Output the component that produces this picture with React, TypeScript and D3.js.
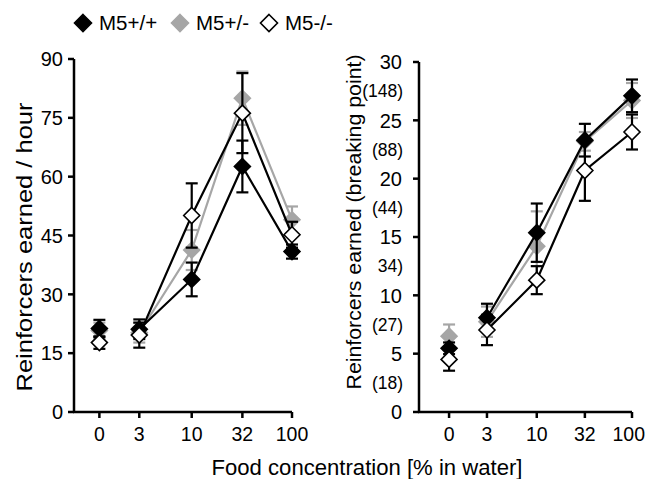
import React from 'react';
import * as d3 from 'd3';

const W = 647, H = 479;
const font = '"Liberation Sans", Arial, Helvetica, sans-serif';

// food concentrations; "0" is drawn at 1.2 on the log axis
const xVals = [1.2, 3, 10, 32, 100];
const xLabels = ['0', '3', '10', '32', '100'];

const seriesNames = ['M5+/+', 'M5+/-', 'M5-/-'];

// reinforcers earned / hour (mean, sem)
const hourWT = [21.3, 21.1, 33.8, 62.6, 40.9];
const hourWTErr = [2.2, 2.5, 4.3, 6.6, 1.8];
const hourHet = [20.8, 20.2, 41.3, 80.0, 49.0];
const hourHetErr = [2.0, 2.5, 5.1, 6.8, 3.4];
const hourKO = [17.7, 19.6, 50.1, 76.2, 45.2];
const hourKOErr = [1.6, 3.2, 8.2, 10.2, 3.3];

// reinforcers earned, breaking point (mean, sem)
const bpWT = [5.46, 8.08, 15.37, 23.3, 27.1];
const bpWTErr = [0.5, 1.2, 2.5, 1.4, 1.4];
const bpHet = [6.5, 7.74, 14.2, 23.2, 26.7];
const bpHetErr = [1.0, 1.3, 3.0, 0.8, 1.5];
const bpKO = [4.51, 7.03, 11.3, 20.7, 24.0];
const bpKOErr = [0.97, 1.3, 1.2, 2.6, 1.5];

const bpSecondary = ['(18)', '(27)', '34)', '(44)', '(88)', '(148)'];

const styles = [
  { fill: '#000', stroke: '#000', line: '#000' },
  { fill: '#a6a6a6', stroke: '#a6a6a6', line: '#a6a6a6' },
  { fill: '#fff', stroke: '#000', line: '#000' },
];

const diamond = (cx: number, cy: number, r: number) =>
  `M${cx},${cy - r}L${cx + r},${cy}L${cx},${cy + r}L${cx - r},${cy}Z`;

type PanelProps = {
  x0: number; x1: number; yTop: number; yBottom: number;
  xMin: number; yMax: number; step: number; labelGap: number;
  data: number[][]; errs: number[][];
  secondary?: string[];
};

const tickFont = 19.5;

function Panel({ x0, x1, yTop, yBottom, xMin, yMax, step, labelGap, data, errs, secondary }: PanelProps) {
  const x = d3.scaleLog().domain([xMin, 100]).range([x0, x1]);
  const y = d3.scaleLinear().domain([0, yMax]).range([yBottom, yTop]);
  const yTicks = d3.range(0, yMax + 0.001, step);
  const line = d3.line<number>().x((_, i) => x(xVals[i + 1])).y(d => y(d));
  const order = [1, 0, 2];
  return (
    <g>
      <line x1={x0} x2={x0} y1={y(0)} y2={y(yMax)} stroke="#000" strokeWidth={2.5} />
      <line x1={x0 - 1} x2={x(100)} y1={y(0)} y2={y(0)} stroke="#000" strokeWidth={2.5} />
      {yTicks.map(t => (
        <g key={t}>
          <line x1={x0 - 6} x2={x0} y1={y(t)} y2={y(t)} stroke="#000" strokeWidth={2.5} />
          <text x={x0 - labelGap} y={y(t)} dy="0.36em" textAnchor="end" fontSize={20} fontFamily={font}>{t}</text>
        </g>
      ))}
      {secondary && secondary.map((s, i) => (
        <text key={s} x={x0 - labelGap + 1} y={y(step * i + step / 2)} dy="0.36em" textAnchor="end" fontSize={17.5} fontFamily={font}>{s}</text>
      ))}
      {xVals.map((v, i) => {
        // keep the label inside the picture's right edge
        const half = xLabels[i].length * 0.556 * tickFont / 2;
        const tx = Math.min(x(v), W - 2 - half);
        return (
          <g key={v}>
            <line x1={x(v)} x2={x(v)} y1={y(0)} y2={y(0) + 6} stroke="#000" strokeWidth={2.5} />
            <text x={tx} y={y(0) + 29} textAnchor="middle" fontSize={tickFont} fontFamily={font}>{xLabels[i]}</text>
          </g>
        );
      })}
      {order.map(s => (
        <g key={s}>
          <path d={line(data[s].slice(1)) || ''} fill="none" stroke={styles[s].line} strokeWidth={2.2} />
          {data[s].map((d, i) => {
            const cx = x(xVals[i]);
            const c = s === 1 ? '#a6a6a6' : '#000';
            return (
              <g key={i} stroke={c} strokeWidth={2.2}>
                <line x1={cx} x2={cx} y1={y(d - errs[s][i])} y2={y(d + errs[s][i])} />
                <line x1={cx - 6} x2={cx + 6} y1={y(d + errs[s][i])} y2={y(d + errs[s][i])} />
                <line x1={cx - 6} x2={cx + 6} y1={y(d - errs[s][i])} y2={y(d - errs[s][i])} />
              </g>
            );
          })}
          {data[s].map((d, i) => (
            <path key={'m' + i} d={diamond(x(xVals[i]), y(d), 8)} fill={styles[s].fill}
              stroke={styles[s].stroke} strokeWidth={1.6} />
          ))}
        </g>
      ))}
    </g>
  );
}

export default function App() {
  const legendX = [83, 180, 269];
  return (
    <svg width={W} height={H} style={{ position: 'absolute', left: 0, top: 0, background: '#fff' }}>
      {seriesNames.map((n, i) => (
        <g key={n}>
          <path d={diamond(legendX[i], 23, 8.5)} fill={styles[i].fill} stroke={styles[i].stroke} strokeWidth={1.6} />
          <text x={legendX[i] + 16} y={23} dy="0.36em" fontSize={20.5} fontFamily={font}>{n}</text>
        </g>
      ))}
      <Panel x0={74} x1={292} yTop={59} yBottom={412} xMin={0.67} yMax={90} step={15} labelGap={11}
        data={[hourWT, hourHet, hourKO]} errs={[hourWTErr, hourHetErr, hourKOErr]} />
      <Panel x0={419} x1={632} yTop={62} yBottom={412} xMin={0.58} yMax={30} step={5} labelGap={17}
        data={[bpWT, bpHet, bpKO]} errs={[bpWTErr, bpHetErr, bpKOErr]} secondary={bpSecondary} />
      <text transform="translate(32,247) rotate(-90)" textAnchor="middle" fontSize={22} fontFamily={font}
        textLength={289} lengthAdjust="spacingAndGlyphs">
        Reinforcers earned / hour
      </text>
      <text transform="translate(361,222) rotate(-90)" textAnchor="middle" fontSize={21} fontFamily={font}
        textLength={335} lengthAdjust="spacingAndGlyphs">
        Reinforcers earned (breaking point)
      </text>
      <text x={367} y={475} textAnchor="middle" fontSize={22} fontFamily={font}
        textLength={311} lengthAdjust="spacingAndGlyphs">
        Food concentration [% in water]
      </text>
    </svg>
  );
}
